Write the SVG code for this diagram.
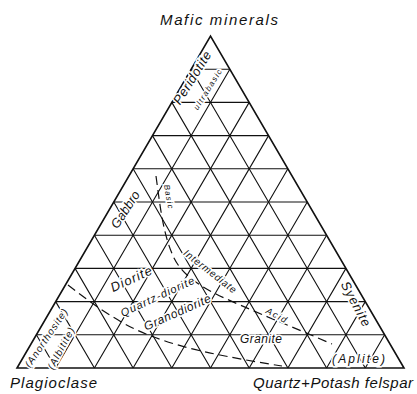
<svg xmlns="http://www.w3.org/2000/svg" width="417" height="394" viewBox="0 0 417 394">
<style>
.g{stroke:#111;stroke-width:1.1;fill:none}
.o{stroke:#111;stroke-width:1.6;fill:none;stroke-linejoin:miter}
.d{stroke:#111;stroke-width:1.2;fill:none;stroke-dasharray:9 5}
text{font-family:"Liberation Sans",Arial,sans-serif;font-style:italic;fill:#111}
.lab{stroke:#fff;stroke-width:3;paint-order:stroke}
</style>
<rect width="417" height="394" fill="#fff"/>
<g id="connectors">
<path class="o" d="M17,368 L404,368 L210.5,36 Z"/>
<path class="g" d="M36.35,334.8H384.65M55.7,301.6H365.3M75.05,268.4H345.95M94.4,235.2H326.6M113.75,202H307.25M133.1,168.8H287.9M152.45,135.6H268.55M171.8,102.4H249.2M191.15,69.2H229.85"/>
<path class="g" d="M55.7,368L229.85,69.2M94.4,368L249.2,102.4M133.1,368L268.55,135.6M171.8,368L287.9,168.8M210.5,368L307.25,202M249.2,368L326.6,235.2M287.9,368L345.95,268.4M326.6,368L365.3,301.6M365.3,368L384.65,334.8"/>
<path class="g" d="M55.7,368L36.35,334.8M94.4,368L55.7,301.6M133.1,368L75.05,268.4M171.8,368L94.4,235.2M210.5,368L113.75,202M249.2,368L133.1,168.8M287.9,368L152.45,135.6M326.6,368L171.8,102.4M365.3,368L191.15,69.2"/>
<path class="d" d="M156,176 C160,205 163,235 174,258 C185,280 210,292 240,305 C265,316 295,328 332,344"/>
<path class="d" d="M68,285 C85,298 100,310 125,324 C150,338 185,348 215,354 C240,359 262,363 282,366"/>
</g>
<g id="mafic"><text x="219" y="25" font-size="15" text-anchor="middle" textLength="118" lengthAdjust="spacing">Mafic minerals</text></g>
<g id="plagioclase"><text x="10" y="388" font-size="15" textLength="87" lengthAdjust="spacing">Plagioclase</text></g>
<g id="quartz"><text x="253" y="388" font-size="15" textLength="160" lengthAdjust="spacing">Quartz+Potash felspar</text></g>
<g id="peridotite">
<text class="lab" transform="translate(196,80) rotate(-58)" font-size="13" text-anchor="middle" textLength="60" lengthAdjust="spacing">Peridotite</text>
<text class="lab" transform="translate(210,91) rotate(-58)" font-size="8" text-anchor="middle" textLength="46" lengthAdjust="spacing">ultrabasic</text>
</g>
<g id="gabbro"><text class="lab" transform="translate(129,212) rotate(-57)" font-size="13" text-anchor="middle" textLength="42" lengthAdjust="spacing">Gabbro</text></g>
<g id="basic"><text class="lab" transform="translate(166,197) rotate(80)" font-size="8" text-anchor="middle" textLength="24" lengthAdjust="spacing">Basic</text></g>
<g id="intermediate"><text class="lab" transform="translate(208,274) rotate(38)" font-size="10" text-anchor="middle" textLength="64" lengthAdjust="spacing">Intermediate</text></g>
<g id="diorite"><text class="lab" transform="translate(133,283) rotate(-25)" font-size="13" text-anchor="middle" textLength="44" lengthAdjust="spacing">Diorite</text></g>
<g id="quartzdiorite"><text class="lab" transform="translate(159,300) rotate(-25)" font-size="11" text-anchor="middle" textLength="80" lengthAdjust="spacing">Quartz-diorite</text></g>
<g id="granodiorite"><text class="lab" transform="translate(179,316) rotate(-24)" font-size="12" text-anchor="middle" textLength="72" lengthAdjust="spacing">Granodiorite</text></g>
<g id="granite"><text class="lab" x="240" y="343" font-size="12" textLength="42" lengthAdjust="spacing">Granite</text></g>
<g id="acid"><text class="lab" transform="translate(275,318) rotate(28)" font-size="9" text-anchor="middle" textLength="22" lengthAdjust="spacing">Acid</text></g>
<g id="syenite"><text class="lab" transform="translate(352,306) rotate(62)" font-size="13" text-anchor="middle" textLength="49" lengthAdjust="spacing">Syenite</text></g>
<g id="aplite"><text class="lab" x="332" y="363" font-size="12" textLength="53" lengthAdjust="spacing">(Aplite)</text></g>
<g id="anorthosite">
<text class="lab" transform="translate(49,340) rotate(-56)" font-size="10" text-anchor="middle" textLength="68" lengthAdjust="spacing">(Anorthosite)</text>
<text class="lab" transform="translate(64,350) rotate(-62)" font-size="10" text-anchor="middle" textLength="46" lengthAdjust="spacing">(Albitite)</text>
</g>
</svg>
